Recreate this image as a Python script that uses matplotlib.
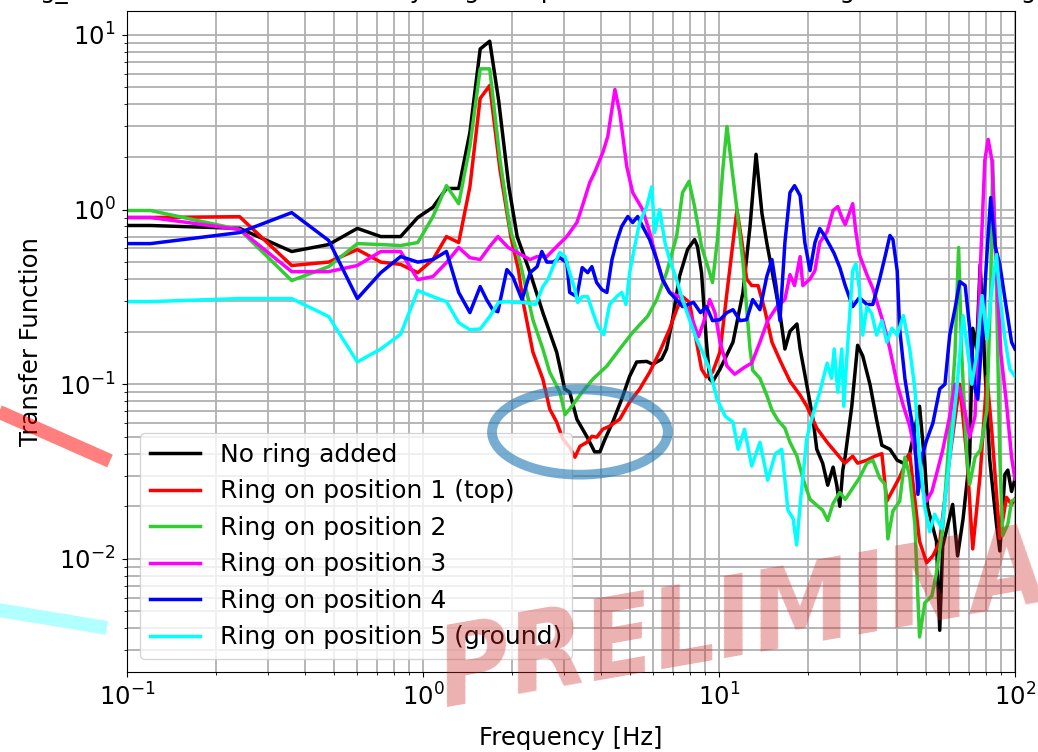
import matplotlib
matplotlib.use("Agg")
import matplotlib.pyplot as plt
from matplotlib.patches import Ellipse
from matplotlib.lines import Line2D

plt.rcParams["font.size"] = 17.5

# Transfer function magnitude for each ring position (frequency in Hz)
f_none = [0.10, 0.12, 0.24, 0.36, 0.48, 0.60, 0.72, 0.84, 0.96, 1.08, 1.20, 1.32, 1.44, 1.56, 1.68,
          1.80, 1.95, 2.08, 2.30, 2.54, 2.83, 3.01, 3.13, 3.31, 3.58, 3.80, 3.96, 4.11, 4.38, 4.69,
          4.99, 5.27, 5.70, 5.97, 6.40, 6.65, 6.97, 7.36, 7.83, 8.27, 8.46, 8.73, 9.07, 9.30, 9.51,
          10.08, 11.15, 12.05, 12.73, 13.34, 13.97, 14.5, 15.1, 16.07, 16.7, 17.37, 18.34, 18.8,
          19.8, 20.8, 21.4, 22.4, 23.3, 24.3, 25.0, 25.6, 26.2, 26.7, 28.1, 29.4, 30.6, 32.4, 34.1,
          35.5, 37.8, 40.0, 42.0, 44.1, 47.6, 49.6, 50.7, 54.3, 55.7, 57.0, 61.6, 64.0, 66.8, 70.3,
          72.0, 74.2, 76.3, 79.1, 82.2, 86.6, 88.9, 92.5, 94.6, 97.4, 100.0]
tf_none = [0.81, 0.81, 0.78, 0.575, 0.63, 0.78, 0.70, 0.70, 0.90, 1.03, 1.32, 1.32, 2.76, 8.3, 9.2,
           4.24, 1.35, 0.70, 0.435, 0.257, 0.152, 0.094, 0.09, 0.063, 0.050, 0.041, 0.041, 0.048,
           0.061, 0.082, 0.111, 0.134, 0.135, 0.130, 0.139, 0.159, 0.236, 0.416, 0.59, 0.673, 0.614,
           0.435, 0.174, 0.107, 0.103, 0.122, 0.174, 0.335, 0.80, 2.07, 0.95, 0.647, 0.447, 0.254,
           0.159, 0.201, 0.221, 0.159, 0.099, 0.0623, 0.0424, 0.0353, 0.0264, 0.0335, 0.0264, 0.020,
           0.0322, 0.0387, 0.0748, 0.167, 0.145, 0.099, 0.0623, 0.0447, 0.0424, 0.0367, 0.0353,
           0.040, 0.0748, 0.0348, 0.0197, 0.0126, 0.0039, 0.0118, 0.0205, 0.0104, 0.017, 0.0382,
           0.209, 0.159, 0.484, 0.127, 0.0367, 0.0158, 0.0111, 0.0305, 0.0322, 0.0243, 0.0286]

f_pos1 = [0.10, 0.12, 0.24, 0.36, 0.48, 0.60, 0.72, 0.84, 0.96, 1.08, 1.20, 1.32, 1.44, 1.56, 1.68,
          1.82, 1.98, 2.10, 2.18, 2.35, 2.54, 2.68, 2.83, 2.97, 3.13, 3.26, 3.39, 3.58, 3.72, 3.86,
          4.05, 4.27, 4.62, 4.99, 5.39, 5.83, 6.30, 6.81, 7.19, 7.53, 7.95, 8.40, 8.73, 9.07, 9.51,
          10.08, 10.64, 11.15, 11.5, 11.96, 12.4, 12.9, 13.55, 14.3, 15.1, 16.07, 17.37, 18.8, 19.8,
          21.4, 23.2, 25.0, 26.6, 28.3, 29.4, 31.6, 33.6, 35.5, 36.9, 40.8, 44.1, 47.6, 50.3, 52.8,
          55.7, 60.2, 65.1, 68.8, 72.0, 76.3, 80.4, 83.6, 88.9, 93.6, 97.4, 100.0]
tf_pos1 = [0.90, 0.90, 0.91, 0.478, 0.50, 0.59, 0.50, 0.485, 0.435, 0.517, 0.70, 0.647, 1.35, 4.33,
           5.13, 1.69, 0.70, 0.453, 0.294, 0.153, 0.107, 0.072, 0.0606, 0.0484, 0.0435, 0.0382,
           0.0441, 0.0465, 0.0503, 0.0497, 0.0552, 0.0575, 0.063, 0.079, 0.0936, 0.117, 0.153, 0.207,
           0.267, 0.317, 0.294, 0.174, 0.122, 0.110, 0.117, 0.153, 0.335, 0.647, 1.0, 0.647, 0.40,
           0.367, 0.367, 0.264, 0.174, 0.137, 0.104, 0.0865, 0.0748, 0.056, 0.0465, 0.040, 0.0353,
           0.0387, 0.0353, 0.0367, 0.0387, 0.040, 0.0214, 0.0294, 0.040, 0.0126, 0.0095, 0.0104,
           0.0125, 0.0382, 0.10, 0.0382, 0.0114, 0.0305, 0.111, 0.0524, 0.0131, 0.0225, 0.0205, 0.022]

f_pos2 = [0.10, 0.12, 0.24, 0.36, 0.48, 0.60, 0.72, 0.84, 0.96, 1.08, 1.20, 1.32, 1.44, 1.56, 1.68,
          1.82, 1.97, 2.13, 2.35, 2.54, 2.68, 2.90, 3.02, 3.13, 3.31, 3.45, 3.75, 4.18, 4.62, 5.11,
          5.74, 6.16, 6.65, 7.19, 7.53, 7.92, 8.27, 8.73, 9.30, 9.51, 9.88, 10.3, 10.64, 11.07, 11.5,
          12.05, 12.73, 13.0, 13.75, 14.5, 15.1, 15.8, 16.7, 17.37, 18.34, 19.2, 20.3, 21.6, 22.4,
          23.3, 24.3, 25.6, 26.7, 28.3, 29.8, 31.6, 33.1, 34.9, 36.4, 37.2, 38.7, 40.8, 42.5, 44.1,
          45.9, 47.6, 49.6, 52.4, 54.3, 57.0, 59.3, 62.7, 64.5, 66.1, 68.8, 70.3, 73.3, 76.3, 80.4,
          82.8, 84.1, 86.6, 88.9, 90.9, 94.6, 97.4, 100.0]
tf_pos2 = [0.987, 0.987, 0.768, 0.392, 0.471, 0.638, 0.63, 0.622, 0.647, 0.91, 1.37, 1.08, 2.30,
           6.39, 6.39, 1.93, 0.768, 0.497, 0.234, 0.159, 0.117, 0.090, 0.067, 0.072, 0.082, 0.090,
           0.107, 0.127, 0.159, 0.198, 0.245, 0.305, 0.435, 0.70, 1.25, 1.45, 1.04, 0.614, 0.435,
           0.382, 0.673, 1.69, 2.99, 1.69, 1.0, 0.497, 0.159, 0.120, 0.108, 0.0865, 0.071, 0.0623,
           0.056, 0.0465, 0.0387, 0.029, 0.0219, 0.020, 0.019, 0.0166, 0.0208, 0.024, 0.0219, 0.0254,
           0.029, 0.0353, 0.0367, 0.029, 0.0267, 0.013, 0.0188, 0.0214, 0.0382, 0.0294, 0.0158,
           0.00357, 0.0056, 0.00614, 0.0083, 0.0149, 0.0382, 0.147, 0.606, 0.147, 0.0382, 0.0267,
           0.0382, 0.0419, 0.071, 0.353, 1.91, 0.353, 0.0382, 0.0136, 0.0158, 0.0214, 0.0219]

f_pos3 = [0.10, 0.12, 0.24, 0.36, 0.48, 0.60, 0.72, 0.84, 0.96, 1.08, 1.20, 1.32, 1.44, 1.56, 1.68,
          1.79, 1.94, 2.08, 2.30, 2.43, 2.62, 2.83, 3.06, 3.31, 3.45, 3.66, 3.80, 4.05, 4.21, 4.45,
          4.62, 4.88, 5.11, 5.52, 5.83, 6.16, 6.45, 6.81, 7.36, 7.77, 8.20, 8.53, 8.86, 9.30, 9.69,
          10.08, 10.64, 11.3, 12.2, 12.9, 13.75, 14.6, 15.7, 16.7, 17.37, 18.0, 18.8, 19.2, 20.3,
          21.1, 21.9, 23.2, 24.3, 25.2, 26.0, 26.7, 28.3, 29.0, 29.8, 31.6, 33.1, 35.9, 37.8, 40.0,
          42.0, 44.1, 46.3, 48.1, 50.3, 52.4, 54.3, 57.0, 60.2, 62.7, 65.1, 67.9, 70.3, 73.3, 76.3,
          79.1, 81.2, 83.6, 86.6, 89.7, 93.6, 97.4, 100.0]
tf_pos3 = [0.90, 0.90, 0.768, 0.441, 0.441, 0.478, 0.575, 0.575, 0.397, 0.413, 0.497, 0.606, 0.53,
           0.517, 0.614, 0.70, 0.606, 0.567, 0.517, 0.538, 0.538, 0.614, 0.70, 0.842, 1.04, 1.43,
           1.63, 2.12, 2.62, 4.87, 3.59, 1.76, 1.25, 1.0, 0.74, 0.517, 0.397, 0.335, 0.317, 0.278,
           0.225, 0.187, 0.225, 0.305, 0.257, 0.174, 0.127, 0.114, 0.125, 0.132, 0.174, 0.231, 0.278,
           0.305, 0.424, 0.367, 0.538, 0.367, 0.40, 0.447, 0.647, 0.748, 0.987, 1.04, 0.90, 0.82,
           1.08, 0.748, 0.552, 0.424, 0.353, 0.225, 0.159, 0.10, 0.0748, 0.0575, 0.0382, 0.0267,
           0.0214, 0.0243, 0.0305, 0.0419, 0.0655, 0.10, 0.094, 0.0682, 0.0497, 0.0655, 0.441, 1.91,
           2.52, 1.91, 0.441, 0.147, 0.078, 0.0382, 0.0286]

f_pos4 = [0.10, 0.12, 0.24, 0.36, 0.48, 0.60, 0.72, 0.84, 0.96, 1.08, 1.20, 1.32, 1.44, 1.56, 1.64,
          1.72, 1.79, 1.92, 2.01, 2.16, 2.30, 2.43, 2.52, 2.62, 2.75, 2.90, 3.06, 3.13, 3.31, 3.45,
          3.60, 3.72, 3.86, 4.02, 4.18, 4.35, 4.51, 4.69, 4.92, 5.11, 5.31, 5.52, 5.83, 6.16, 6.45,
          6.81, 7.19, 7.53, 8.20, 8.66, 9.07, 9.51, 10.08, 10.64, 11.15, 11.78, 12.4, 13.0, 13.75,
          14.5, 15.1, 15.6, 16.07, 16.7, 17.37, 18.0, 18.8, 19.5, 20.3, 21.1, 21.9, 22.7, 23.7, 24.5,
          25.6, 26.7, 28.3, 29.8, 31.6, 33.1, 34.9, 36.4, 37.8, 38.7, 40.0, 40.8, 42.5, 44.1, 45.9,
          47.0, 48.4, 50.3, 52.8, 55.7, 58.0, 60.2, 62.7, 65.1, 67.9, 70.3, 73.3, 74.9, 77.4, 80.4,
          82.8, 85.9, 88.9, 92.5, 97.4, 100.0]
tf_pos4 = [0.638, 0.638, 0.738, 0.96, 0.665, 0.309, 0.435, 0.538, 0.50, 0.517, 0.575, 0.335, 0.257,
           0.362, 0.305, 0.267, 0.26, 0.453, 0.413, 0.305, 0.435, 0.471, 0.575, 0.50, 0.50, 0.53,
           0.497, 0.335, 0.317, 0.465, 0.435, 0.471, 0.382, 0.348, 0.335, 0.517, 0.655, 0.80, 0.912,
           0.842, 0.912, 0.80, 0.673, 0.517, 0.397, 0.335, 0.305, 0.278, 0.294, 0.257, 0.278, 0.231,
           0.234, 0.257, 0.267, 0.231, 0.234, 0.305, 0.267, 0.413, 0.517, 0.362, 0.231, 0.647, 1.25,
           1.37, 1.20, 0.647, 0.447, 0.647, 0.778, 0.71, 0.622, 0.56, 0.465, 0.367, 0.278, 0.313,
           0.286, 0.286, 0.40, 0.538, 0.71, 0.673, 0.447, 0.205, 0.107, 0.072, 0.0484, 0.0234,
           0.0382, 0.0478, 0.0598, 0.094, 0.10, 0.191, 0.27, 0.387, 0.367, 0.209, 0.094, 0.082, 0.191,
           0.552, 1.17, 0.606, 0.484, 0.309, 0.174, 0.159]

f_pos5 = [0.10, 0.12, 0.24, 0.36, 0.48, 0.60, 0.72, 0.84, 0.96, 1.08, 1.20, 1.32, 1.44, 1.56, 1.68,
          1.80, 1.92, 2.04, 2.18, 2.40, 2.54, 2.64, 2.75, 2.90, 3.02, 3.13, 3.26, 3.33, 3.45, 3.60,
          3.75, 3.90, 4.08, 4.27, 4.51, 4.69, 4.85, 4.99, 5.19, 5.39, 5.70, 5.93, 6.06, 6.30, 6.57,
          6.81, 7.19, 7.53, 7.95, 8.40, 8.79, 9.30, 9.85, 10.5, 11.15, 11.6, 12.2, 12.9, 13.75, 14.6,
          15.5, 16.3, 17.1, 17.8, 18.3, 18.8, 19.8, 20.8, 21.9, 23.2, 24.0, 24.5, 25.2, 26.0, 26.4,
          27.4, 28.3, 29.0, 29.8, 30.6, 31.6, 32.8, 34.1, 35.5, 36.9, 38.4, 40.0, 42.0, 44.1, 45.9,
          47.6, 49.6, 51.5, 53.5, 56.6, 58.0, 60.2, 63.6, 66.8, 69.5, 71.5, 74.2, 77.4, 80.4, 83.6,
          86.6, 88.9, 92.5, 96.1, 100.0]
tf_pos5 = [0.297, 0.297, 0.309, 0.309, 0.244, 0.134, 0.159, 0.193, 0.344, 0.317, 0.297, 0.225,
           0.205, 0.207, 0.244, 0.294, 0.297, 0.294, 0.294, 0.286, 0.362, 0.397, 0.471, 0.567, 0.538,
           0.435, 0.348, 0.294, 0.317, 0.317, 0.257, 0.214, 0.192, 0.286, 0.317, 0.335, 0.286, 0.435,
           0.614, 0.842, 1.04, 1.35, 0.74, 1.0, 0.647, 0.517, 0.397, 0.305, 0.234, 0.181, 0.153,
           0.122, 0.082, 0.0655, 0.0606, 0.0424, 0.0552, 0.034, 0.0465, 0.0282, 0.040, 0.0424, 0.019,
           0.017, 0.012, 0.0205, 0.049, 0.068, 0.090, 0.132, 0.108, 0.159, 0.090, 0.159, 0.0748,
           0.201, 0.447, 0.49, 0.353, 0.191, 0.278, 0.254, 0.191, 0.231, 0.174, 0.209, 0.191, 0.247,
           0.159, 0.094, 0.0382, 0.0197, 0.0143, 0.018, 0.0149, 0.0214, 0.0382, 0.094, 0.247, 0.147,
           0.10, 0.147, 0.322, 0.181, 0.353, 0.552, 0.322, 0.181, 0.122, 0.111]

labels = ["No ring added", "Ring on position 1 (top)", "Ring on position 2",
          "Ring on position 3", "Ring on position 4", "Ring on position 5 (ground)"]
colors = ["black", "red", "limegreen", "magenta", "blue", "cyan"]
freqs = [f_none, f_pos1, f_pos2, f_pos3, f_pos4, f_pos5]
values = [tf_none, tf_pos1, tf_pos2, tf_pos3, tf_pos4, tf_pos5]

title = ("Ring_testing_results: Transfer Functions by ring and position "
         "of the added ring versus no ring")

fig = plt.figure(figsize=(10.38, 7.52), dpi=100)
ax = fig.add_axes([0.1224, 0.1064, 0.8554, 0.879])

for f, v, c, lab in zip(freqs, values, colors, labels):
    ax.plot(f, v, color=c, lw=2.5, label=lab)

ax.set_xscale("log")
ax.set_yscale("log")
ax.set_xlim(0.1, 100)
ax.set_ylim(0.00225, 13.7)
ax.grid(True, which="both", color="#b0b0b0", lw=1.3)
ax.tick_params(which="major", pad=5)
ax.set_xlabel("Frequency [Hz]", labelpad=11)
ax.set_ylabel("Transfer Function", labelpad=11)

# title runs wider than the figure, only its bottom edge stays visible
fig.text(-0.0919, 1.0027, title, ha="left", va="baseline")

ax.legend(loc="lower left", fontsize=18)

# highlight the dip region
ax.add_patch(Ellipse((0.510, 0.363), 0.198, 0.129, transform=ax.transAxes,
                     fill=False, ec="#1f77b4", lw=7, alpha=0.6, zorder=10, clip_on=False))

# pieces of the arrows coming from the left
fig.add_artist(Line2D([-0.02, 0.106], [0.464, 0.387], transform=fig.transFigure,
                      color="red", alpha=0.5, lw=10, solid_capstyle="butt"))
fig.add_artist(Line2D([-0.02, 0.103], [0.193, 0.165], transform=fig.transFigure,
                      color="cyan", alpha=0.3, lw=10, solid_capstyle="butt"))

fig.text(0.4287, 0.0598, "PRELIMINARY", fontsize=80, fontweight="bold", style="italic",
         family="DejaVu Sans", fontstretch="condensed", color=(0.8, 0.15, 0.15),
         alpha=0.36, rotation=10, rotation_mode="anchor", ha="left", va="baseline")

fig.savefig("out.png", dpi=100)
